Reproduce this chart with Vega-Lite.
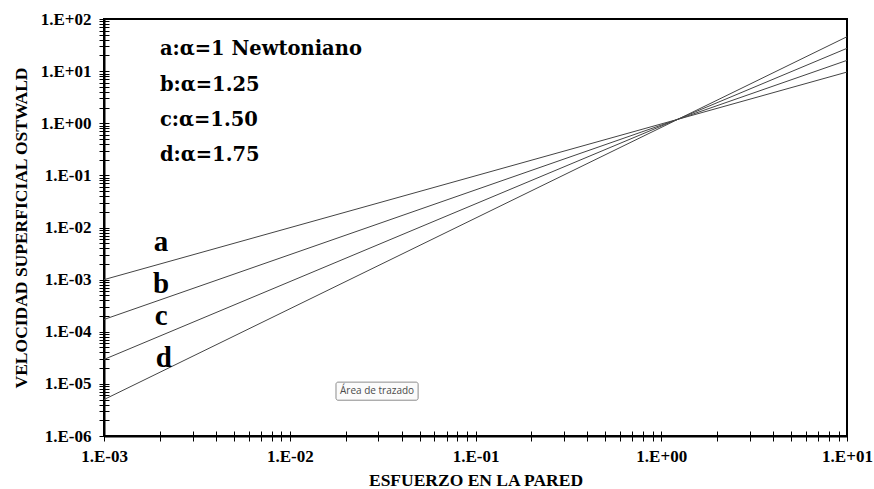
{
  "$schema": "https://vega.github.io/schema/vega-lite/v6.json",
  "autosize": "none",
  "width": 743,
  "height": 417,
  "padding": {"left": 104, "top": 19, "right": 27, "bottom": 53},
  "background": "white",
  "config": {
    "view": {"stroke": "black", "strokeWidth": 2},
    "font": "Liberation Serif"
  },
  "datasets": {
    "lines": [
      {"serie": "a", "x": 0.001, "y": 0.001},
      {"serie": "a", "x": 10, "y": 9.6},
      {"serie": "b", "x": 0.001, "y": 0.000172},
      {"serie": "b", "x": 10, "y": 16.1},
      {"serie": "c", "x": 0.001, "y": 0.0000294},
      {"serie": "c", "x": 10, "y": 27.4},
      {"serie": "d", "x": 0.001, "y": 0.000005},
      {"serie": "d", "x": 10, "y": 45.7}
    ],
    "notes": [
      {"x": 0.002, "y": 20.4, "text": "a:α=1 Newtoniano"},
      {"x": 0.002, "y": 4.21, "text": "b:α=1.25"},
      {"x": 0.002, "y": 0.897, "text": "c:α=1.50"},
      {"x": 0.002, "y": 0.189, "text": "d:α=1.75"}
    ],
    "letters": [
      {"x": 0.00203, "y": 0.00354, "text": "a"},
      {"x": 0.00203, "y": 0.000547, "text": "b"},
      {"x": 0.00203, "y": 0.000135, "text": "c"},
      {"x": 0.0021, "y": 0.0000213, "text": "d"}
    ],
    "tip": [
      {"x1": 0.01774, "x2": 0.0491, "y1": 0.0000108, "y2": 0.00000486, "xc": 0.0295, "yc": 0.00000724, "text": "Área de trazado"}
    ]
  },
  "resolve": {"scale": {"x": "independent", "y": "independent"}, "axis": {"x": "independent", "y": "independent"}},
  "layer": [
    {
      "data": {"name": "lines"},
      "mark": {"type": "line", "color": "#444444", "strokeWidth": 1, "clip": true},
      "encoding": {
        "detail": {"field": "serie"},
        "x": {
          "field": "x", "type": "quantitative",
          "scale": {"type": "log", "domain": [0.001, 10], "nice": false},
          "axis": {
            "orient": "bottom",
            "title": "ESFUERZO  EN LA PARED",
            "titleFont": "Liberation Serif", "titleFontSize": 17.5, "titleFontWeight": "bold", "titleColor": "black",
            "titlePadding": 7,
            "values": [0.001,0.002,0.003,0.004,0.005,0.006,0.007,0.008,0.009,0.01,0.02,0.03,0.04,0.05,0.06,0.07,0.08,0.09,0.1,0.2,0.3,0.4,0.5,0.6,0.7,0.8,0.9,1,2,3,4,5,6,7,8,9,10],
            "labelExpr": "abs(log(datum.value)/LN10 - round(log(datum.value)/LN10)) < 0.001 ? ('1.E' + (round(log(datum.value)/LN10) < 0 ? '-' : '+') + (abs(round(log(datum.value)/LN10)) < 10 ? '0' : '') + abs(round(log(datum.value)/LN10))) : ''",
            "labelFont": "Liberation Serif", "labelFontSize": 17, "labelFontWeight": "bold", "labelColor": "black",
            "labelPadding": 7, "labelOverlap": false, "labelFlush": false,
            "tickSize": 5, "tickColor": "black", "tickWidth": 1,
            "domainColor": "black", "domainWidth": 2, "grid": false
          }
        },
        "y": {
          "field": "y", "type": "quantitative",
          "scale": {"type": "log", "domain": [0.000001, 100], "nice": false},
          "axis": {
            "orient": "left",
            "title": "VELOCIDAD  SUPERFICIAL  OSTWALD",
            "titleFont": "Liberation Serif", "titleFontSize": 17.5, "titleFontWeight": "bold", "titleColor": "black",
            "titlePadding": 10,
            "values": [0.000001,0.000002,0.000003,0.000004,0.000005,0.000006,0.000007,0.000008,0.000009,0.00001,0.00002,0.00003,0.00004,0.00005,0.00006,0.00007,0.00008,0.00009,0.0001,0.0002,0.0003,0.0004,0.0005,0.0006,0.0007,0.0008,0.0009,0.001,0.002,0.003,0.004,0.005,0.006,0.007,0.008,0.009,0.01,0.02,0.03,0.04,0.05,0.06,0.07,0.08,0.09,0.1,0.2,0.3,0.4,0.5,0.6,0.7,0.8,0.9,1,2,3,4,5,6,7,8,9,10,20,30,40,50,60,70,80,90,100],
            "labelExpr": "abs(log(datum.value)/LN10 - round(log(datum.value)/LN10)) < 0.001 ? ('1.E' + (round(log(datum.value)/LN10) < 0 ? '-' : '+') + (abs(round(log(datum.value)/LN10)) < 10 ? '0' : '') + abs(round(log(datum.value)/LN10))) : ''",
            "labelFont": "Liberation Serif", "labelFontSize": 17, "labelFontWeight": "bold", "labelColor": "black",
            "labelPadding": 8, "labelOverlap": false,
            "tickSize": 5, "tickColor": "black", "tickWidth": 1,
            "domainColor": "black", "domainWidth": 2, "grid": false
          }
        }
      }
    },
    {
      "layer": [
        {
          "data": {"name": "letters"},
          "mark": {"type": "text", "align": "center", "baseline": "alphabetic", "font": "Liberation Serif", "fontWeight": "bold", "fontSize": 29, "color": "black"},
          "encoding": {
            "x": {
              "field": "x", "type": "quantitative",
              "scale": {"type": "log", "domain": [0.001, 10], "nice": false},
              "axis": {
                "orient": "bottom", "title": null, "labels": false, "domain": false, "grid": false,
                "values": [0.001,0.002,0.003,0.004,0.005,0.006,0.007,0.008,0.009,0.01,0.02,0.03,0.04,0.05,0.06,0.07,0.08,0.09,0.1,0.2,0.3,0.4,0.5,0.6,0.7,0.8,0.9,1,2,3,4,5,6,7,8,9,10],
                "tickSize": -5, "tickColor": "black", "tickWidth": 1
              }
            },
            "y": {
              "field": "y", "type": "quantitative",
              "scale": {"type": "log", "domain": [0.000001, 100], "nice": false},
              "axis": {
                "orient": "left", "title": null, "labels": false, "domain": false, "grid": false,
                "values": [0.000001,0.000002,0.000003,0.000004,0.000005,0.000006,0.000007,0.000008,0.000009,0.00001,0.00002,0.00003,0.00004,0.00005,0.00006,0.00007,0.00008,0.00009,0.0001,0.0002,0.0003,0.0004,0.0005,0.0006,0.0007,0.0008,0.0009,0.001,0.002,0.003,0.004,0.005,0.006,0.007,0.008,0.009,0.01,0.02,0.03,0.04,0.05,0.06,0.07,0.08,0.09,0.1,0.2,0.3,0.4,0.5,0.6,0.7,0.8,0.9,1,2,3,4,5,6,7,8,9,10,20,30,40,50,60,70,80,90,100],
                "tickSize": -5, "tickColor": "black", "tickWidth": 1
              }
            },
            "text": {"field": "text"}
          }
        },
        {
          "data": {"name": "notes"},
          "mark": {"type": "text", "align": "left", "baseline": "alphabetic", "font": "DejaVu Serif", "fontWeight": "bold", "fontSize": 19.5, "color": "black"},
          "encoding": {
            "x": {"field": "x", "type": "quantitative"},
            "y": {"field": "y", "type": "quantitative"},
            "text": {"field": "text"}
          }
        },
        {
          "data": {"name": "tip"},
          "mark": {"type": "rect", "fill": "#fbfbfb", "stroke": "#8c8c8c", "strokeWidth": 1, "cornerRadius": 2},
          "encoding": {
            "x": {"field": "x1", "type": "quantitative"},
            "x2": {"field": "x2"},
            "y": {"field": "y1", "type": "quantitative"},
            "y2": {"field": "y2"}
          }
        },
        {
          "data": {"name": "tip"},
          "mark": {"type": "text", "align": "center", "baseline": "middle", "font": "Open Sans", "fontSize": 10, "color": "#4a4a4a"},
          "encoding": {
            "x": {"field": "xc", "type": "quantitative"},
            "y": {"field": "yc", "type": "quantitative"},
            "text": {"field": "text"}
          }
        }
      ]
    }
  ]
}
